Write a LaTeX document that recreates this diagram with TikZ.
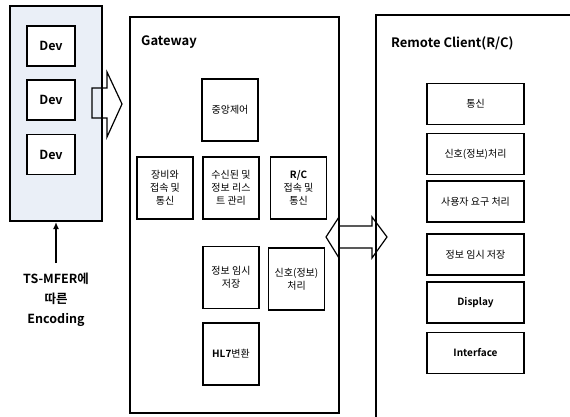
\documentclass[tikz,border=0pt]{standalone}
\usetikzlibrary{arrows.meta}
\usepackage{fontspec}
\setmainfont{Noto Sans CJK KR}
\newfontfamily\krb{Noto Sans CJK KR Bold}
\definecolor{devfill}{RGB}{234,239,247}
\begin{document}
\begin{tikzpicture}[x=1pt,y=-1pt,
  frame/.style={draw,line width=1.4pt},
  bx/.style={draw,line width=1.4pt,align=center,inner sep=0pt,font=\fontsize{10}{13}\selectfont},
  devbox/.style={bx,minimum width=48pt,minimum height=40pt,fill=white,font=\krb\fontsize{12.5}{14}\selectfont},
  gw/.style={bx,minimum width=56pt,minimum height=62pt},
  rc/.style={bx,minimum width=97pt,minimum height=41pt},
  blk/.style={draw=black,line width=1.2pt},
  head/.style={font=\krb\fontsize{13}{15}\selectfont,anchor=west,inner sep=0pt}
]
\useasboundingbox (0,0) rectangle (570,417);
\fill[white] (0,0) rectangle (570,417);
% device box
\draw[frame,fill=devfill] (10,6) rectangle (102,221);
\node[devbox] (d1) at (51,46) {Dev};
\node[devbox] (d2) at (51,100) {Dev};
\node[devbox] (d3) at (51,154.5) {Dev};
% right block arrow
\draw[blk,line join=miter] (92,88) -- (107,88) -- (107,72) -- (122,104) -- (107,137) -- (107,118) -- (92,118) -- cycle;
% encoding text and arrow
\node[font=\krb\fontsize{12.5}{20}\selectfont,align=center,inner sep=0pt] (enc) at (56,300) {TS-MFER에\\따른\\Encoding};
\coordinate (dbot) at (56,222);
\draw[line width=1.6pt,-{Latex[length=7pt,width=6pt]}] (56,263) -- (dbot);
% gateway
\draw[frame] (130,17) rectangle (339,413);
\node[head] (gwt) at (141,42) {Gateway};
\node[gw] (g1) at (230,110) {중앙제어};
\node[gw] (g2) at (165,188) {장비와\\접속 및\\통신};
\node[gw] (g3) at (231,188) {수신된 및\\정보 리스\\트 관리};
\node[gw] (g4) at (298.5,188) {{\krb R/C}\\접속 및\\통신};
\node[gw] (g5) at (231,277.5) {정보 임시\\저장};
\node[gw] (g6) at (296.5,279) {신호(정보)\\처리};
\node[gw] (g7) at (231,354) {{\krb HL7}변환};
% double arrow
\draw[blk,line join=miter] (326,237) -- (339,217) -- (339,226) -- (372,226) -- (372,217) -- (387,237) -- (372,258) -- (372,248) -- (339,248) -- (339,258) -- cycle;
% remote client
\draw[frame] (376,420) -- (376,15) -- (575,15);
\node[head] (rct) at (391,43) {Remote Client(R/C)};
\node[rc] (r1) at (475.5,104) {통신};
\node[rc] (r2) at (475.5,154) {신호(정보)처리};
\node[rc] (r3) at (475.5,201.5) {사용자 요구 처리};
\node[rc] (r4) at (475.5,254.5) {정보 임시 저장};
\node[rc] (r5) at (475.5,302.5) {\krb Display};
\node[rc] (r6) at (475.5,353) {\krb Interface};
\end{tikzpicture}
\end{document}
